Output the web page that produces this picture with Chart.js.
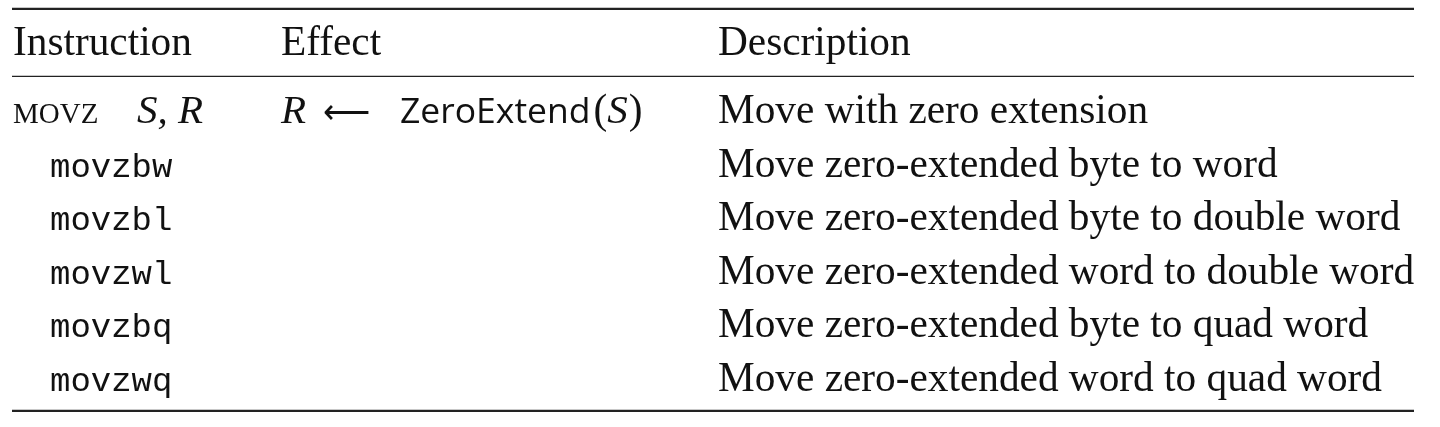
<!DOCTYPE html>
<html>
<head>
<meta charset="utf-8">
<script src="https://cdn.jsdelivr.net/npm/chart.js@4"></script>
<style>
  html, body { margin: 0; padding: 0; background: #fff; }
  #wrap { width: 1440px; height: 427px; }
</style>
</head>
<body>
<div id="wrap"><canvas id="table"></canvas></div>
<script>
// table contents
const columns = ["Instruction", "Effect", "Description"];
const instructions = ["movz", "movzbw", "movzbl", "movzwl", "movzbq", "movzwq"];
const operands = ["S, R", "", "", "", "", ""];
const effects = ["ZeroExtend", "", "", "", "", ""];
const descriptions = [
  "Move with zero extension",
  "Move zero-extended byte to word",
  "Move zero-extended byte to double word",
  "Move zero-extended word to double word",
  "Move zero-extended byte to quad word",
  "Move zero-extended word to quad word",
];

// layout (row units on y, pixels on x)
const colX = [13, 281, 718];
const headerRow = -1.27;
const rules = [
  { y: -2.13, w: 2.2 },
  { y: -0.87, w: 1.4 },
  { y: 5.37, w: 2.2 },
];
const ruleX = [12, 1414];

const SERIF = '"Liberation Serif", "Times New Roman", serif';
const MONO = '"Liberation Mono", "Courier New", monospace';
const SANS = '"Open Sans", sans-serif';
const BODY = "41.3px " + SERIF;

const tablePlugin = {
  id: "tableText",
  afterDraw(chart) {
    const ctx = chart.ctx;
    const x = chart.scales.x;
    const y = chart.scales.y;
    ctx.save();
    ctx.fillStyle = "#111";
    ctx.strokeStyle = "#222";
    ctx.textBaseline = "alphabetic";
    ctx.textAlign = "left";

    // rules
    rules.forEach((r) => {
      const py = y.getPixelForValue(r.y);
      ctx.lineWidth = r.w;
      ctx.beginPath();
      ctx.moveTo(x.getPixelForValue(ruleX[0]), py);
      ctx.lineTo(x.getPixelForValue(ruleX[1]), py);
      ctx.stroke();
    });

    // header
    ctx.font = BODY;
    const hy = y.getPixelForValue(headerRow);
    columns.forEach((c, i) => {
      ctx.fillText(c, x.getPixelForValue(colX[i]), hy);
    });

    instructions.forEach((ins, i) => {
      const py = y.getPixelForValue(i);
      let px = x.getPixelForValue(colX[0]);
      if (operands[i]) {
        // small caps class name
        ctx.font = "29px " + SERIF;
        ctx.fillText(ins.toUpperCase(), px, py);
        ctx.font = "italic 41px " + SERIF;
        ctx.fillText(operands[i], px + 124, py);
      } else {
        ctx.font = "34px " + MONO;
        ctx.fillText(ins, px + 37, py);
      }

      if (effects[i]) {
        let ex = x.getPixelForValue(colX[1]);
        ctx.font = "italic 41px " + SERIF;
        ctx.fillText("R", ex, py);
        // long thin arrow
        ctx.font = "300 33px \"DejaVu Sans\"";
        ctx.fillText("\u27F5", ex + 42, py);
        ctx.font = "35.5px " + SANS;
        ctx.fillText(effects[i], ex + 119, py);
        ex += 119 + ctx.measureText(effects[i]).width + 3;
        ctx.font = BODY;
        ctx.fillText("(", ex, py);
        ex += ctx.measureText("(").width;
        ctx.font = "italic 41px " + SERIF;
        ctx.fillText("S", ex, py);
        ex += ctx.measureText("S").width + 1;
        ctx.font = BODY;
        ctx.fillText(")", ex, py);
      }

      ctx.font = BODY;
      ctx.fillText(descriptions[i], x.getPixelForValue(colX[2]), py);
    });
    ctx.restore();
  },
};

new Chart(document.getElementById("table"), {
  type: "scatter",
  data: {
    datasets: [
      {
        data: instructions.map((_, i) => ({ x: colX[0], y: i })),
        pointRadius: 0,
      },
    ],
  },
  options: {
    responsive: true,
    maintainAspectRatio: false,
    animation: false,
    events: [],
    layout: { padding: 0 },
    plugins: { legend: { display: false }, tooltip: { enabled: false } },
    scales: {
      x: { type: "linear", min: 0, max: 1440, display: false },
      y: { type: "linear", min: -2.295, max: 5.671, reverse: true, display: false },
    },
  },
  plugins: [tablePlugin],
});
</script>
</body>
</html>
